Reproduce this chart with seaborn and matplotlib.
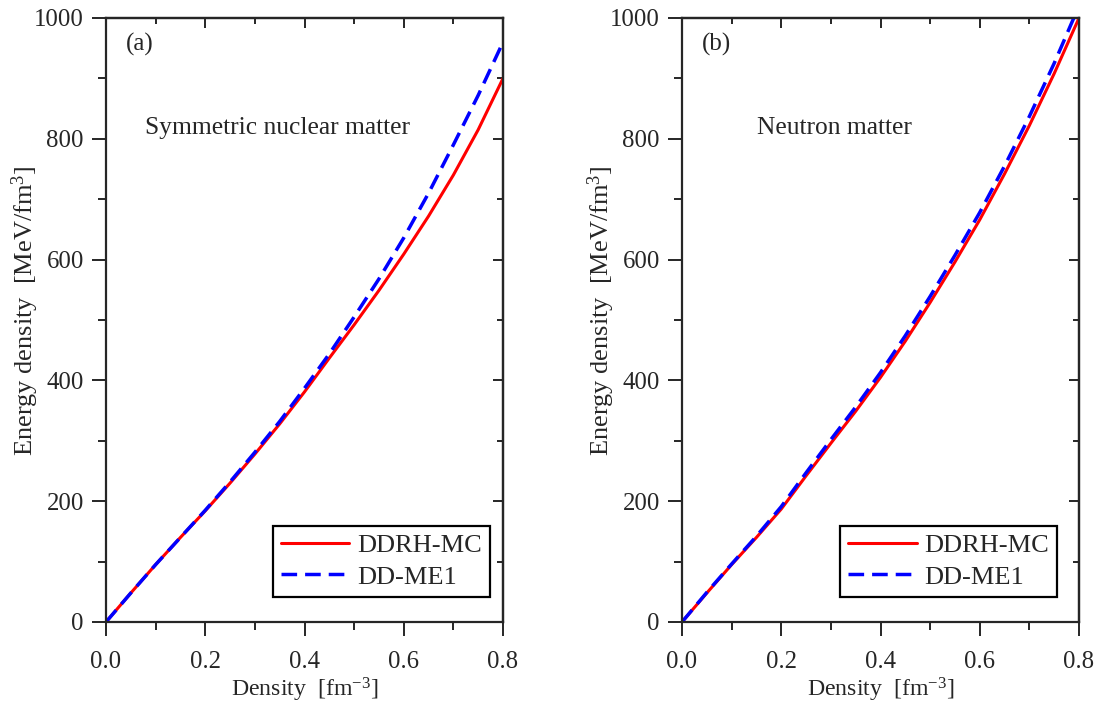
import numpy as np
import pandas as pd
import matplotlib
matplotlib.use("Agg")
import matplotlib.pyplot as plt
from matplotlib.ticker import MultipleLocator, FormatStrFormatter
import seaborn as sns

# density grid [fm^-3]
density = [0.0, 0.05, 0.1, 0.15, 0.2, 0.25, 0.3, 0.35, 0.4, 0.45, 0.5, 0.55, 0.6, 0.65, 0.7, 0.75, 0.8]

# (a) symmetric nuclear matter [MeV/fm^3]
snm_ddrh = [0, 48, 95, 140, 184, 230, 278, 328, 381, 437, 492, 549, 609, 672, 740, 815, 900]
snm_ddme = [0, 48, 95, 140, 185, 232, 281, 332, 387, 444, 505, 568, 636, 710, 790, 872, 960]

# (b) neutron matter [MeV/fm^3]
nm_ddrh = [0, 48, 95, 140, 187, 242, 296, 349, 405, 465, 529, 596, 666, 742, 822, 908, 1000]
nm_ddme = [0, 49, 96, 142, 191, 247, 302, 356, 413, 474, 539, 607, 678, 755, 837, 925, 1020]

panels = [("(a)", "Symmetric nuclear matter", snm_ddrh, snm_ddme, 0.098, 0.967),
          ("(b)", "Neutron matter", nm_ddrh, nm_ddme, 0.19, 0.945)]
series_names = ["DDRH-MC", "DD-ME1"]

sns.set_style("ticks")
plt.rcParams["font.family"] = ["Liberation Serif", "DejaVu Serif"]
plt.rcParams["mathtext.fontset"] = "custom"
plt.rcParams["mathtext.rm"] = "Liberation Serif"
plt.rcParams["mathtext.it"] = "Liberation Serif:italic"
plt.rcParams["mathtext.bf"] = "Liberation Serif:bold"

fig = plt.figure(figsize=(11.02, 7.07), dpi=100)
W, H = 1102, 707
axes = [fig.add_axes([106 / W, 1 - 622 / H, 397 / W, 604 / H]),
        fig.add_axes([682 / W, 1 - 622 / H, 397 / W, 604 / H])]

for ax, (tag, title, ddrh, ddme, title_x, leg_x) in zip(axes, panels):
    df = pd.DataFrame({
        "density": density * 2,
        "energy": ddrh + ddme,
        "model": [series_names[0]] * len(density) + [series_names[1]] * len(density),
    })
    sns.lineplot(data=df, x="density", y="energy", hue="model", style="model",
                 palette=["#ff0000", "#0000ff"],
                 dashes=[(None, None), (4.5, 2.3)], ax=ax, legend=False)
    lines = ax.get_lines()
    lines[0].set_linewidth(2.2)
    lines[1].set_linewidth(2.5)
    lines[1].set_dashes((4.5, 2.3))

    ax.set_xlim(0, 0.8)
    ax.set_ylim(0, 1000)
    ax.xaxis.set_major_locator(MultipleLocator(0.2))
    ax.xaxis.set_minor_locator(MultipleLocator(0.1))
    ax.yaxis.set_major_locator(MultipleLocator(200))
    ax.yaxis.set_minor_locator(MultipleLocator(100))
    ax.xaxis.set_major_formatter(FormatStrFormatter("%.1f"))
    ax.tick_params(which="both", direction="out", top=False, right=False, labelsize=17.8)
    ax.tick_params(which="major", length=10, width=1.4)
    ax.tick_params(which="minor", length=6, width=1.4)
    ax.tick_params(axis="x", which="both", pad=11)
    ax.tick_params(axis="y", which="both", pad=6)
    for sp in ax.spines.values():
        sp.set_linewidth(1.6)
        sp.set_visible(True)

    # mirrored ticks on top / right point inward
    top = ax.secondary_xaxis("top")
    top.xaxis.set_major_locator(MultipleLocator(0.2))
    top.xaxis.set_minor_locator(MultipleLocator(0.1))
    top.tick_params(which="both", direction="in", labeltop=False, width=1.4)
    top.tick_params(which="major", length=7)
    top.tick_params(which="minor", length=4.5)
    top.spines["top"].set_linewidth(1.6)
    right = ax.secondary_yaxis("right")
    right.yaxis.set_major_locator(MultipleLocator(200))
    right.yaxis.set_minor_locator(MultipleLocator(100))
    right.tick_params(which="both", direction="in", labelright=False, width=1.4)
    right.tick_params(which="major", length=7)
    right.tick_params(which="minor", length=4.5)
    right.spines["right"].set_linewidth(1.6)

    ax.set_xlabel(r"Density  [fm$^{-3}$]", fontsize=17.2, labelpad=2)
    ax.set_ylabel(r"Energy density  [MeV/fm$^{3}$]", fontsize=19)
    ax.yaxis.set_label_coords(-0.163, 0.515)
    ax.text(0.05, 0.975, tag, transform=ax.transAxes, fontsize=18, va="top", ha="left")
    ax.text(title_x, 0.818, title, transform=ax.transAxes,
            fontsize=18.4, va="center", ha="left")

    leg = ax.legend(lines[:2], series_names, loc="lower right",
                    bbox_to_anchor=(leg_x, 0.042), fontsize=19, frameon=True,
                    fancybox=False, edgecolor="black", handlelength=2.6,
                    borderpad=0.3, labelspacing=0.3, handletextpad=0.3,
                    borderaxespad=0, framealpha=1)
    leg.get_frame().set_linewidth(1.6)

fig.savefig("out.png", dpi=100)
